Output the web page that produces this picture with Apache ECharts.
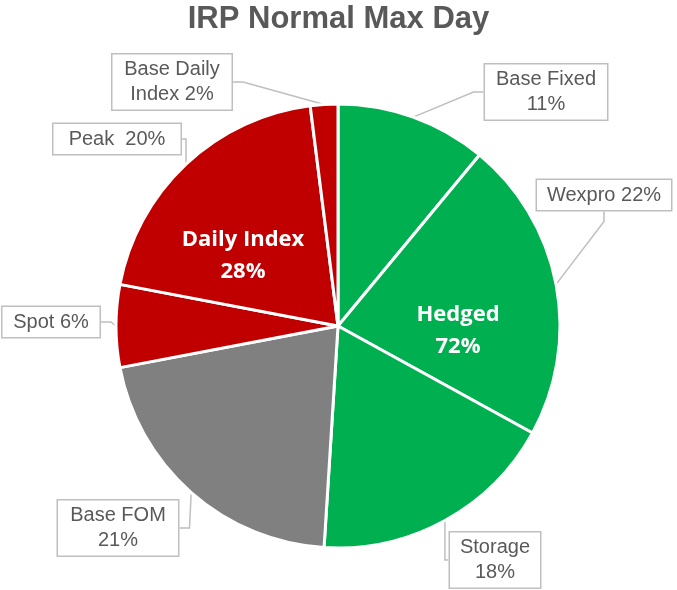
<!DOCTYPE html>
<html><head><meta charset="utf-8">
<script src="https://cdn.jsdelivr.net/npm/echarts@6/dist/echarts.min.js"></script>
<style>html,body{margin:0;padding:0;background:#fff}#c{width:677px;height:590px}</style>
</head><body><div id="c"></div>
<script>
const categories = ['Base Fixed','Wexpro','Storage','Base FOM','Spot','Peak','Base Daily Index'];
const values = [11,22,18,21,6,20,2];
const labelTexts = ['Base Fixed\n11%','Wexpro 22%','Storage\n18%','Base FOM\n21%','Spot 6%','Peak  20%','Base Daily\nIndex 2%'];
const groups = ['Hedged','Hedged','Hedged','Hedged','Daily Index','Daily Index','Daily Index'];
const colors = ['#00B050','#00B050','#00B050','#808080','#C00000','#C00000','#C00000'];

const labelPos = [[546,92],[604,195],[495,560],[118,528],[51,322],[117,139],[172,82]];
const labelWidths = [102,114,70,100,77,107,99];

const groupTotal = g => values.reduce((s,v,i)=> groups[i]===g ? s+v : s, 0);

const chart = echarts.init(document.getElementById('c'), null, {renderer:'canvas'});
chart.setOption({
  animation:false,
  title:{text:'IRP Normal Max Day', left:'center', top:-1,
    textStyle:{fontFamily:'Liberation Sans, Arial, sans-serif', fontSize:31, fontWeight:'bold', color:'#595959'}},
  graphic:[
    {type:'text', x:458, y:331, z:100, zlevel:1, style:{text:'Hedged\n' + groupTotal('Hedged') + '%', fill:'#fff',
      font:'bold 22px "Open Sans", sans-serif', align:'center', verticalAlign:'middle', lineHeight:32}},
    {type:'text', x:243, y:256, z:100, zlevel:1, style:{text:'Daily Index\n' + groupTotal('Daily Index') + '%', fill:'#fff',
      font:'bold 22px "Open Sans", sans-serif', align:'center', verticalAlign:'middle', lineHeight:32}}
  ],
  series:[{
    type:'pie',
    center:[338,326],
    radius:[0,222],
    startAngle:90,
    clockwise:true,
    itemStyle:{borderColor:'#fff', borderWidth:3},
    data: categories.map((c,i)=>({name:c, value:values[i], itemStyle:{color:colors[i]},
      label:{formatter:labelTexts[i], width:labelWidths[i]}})),
    label:{show:true, position:'outside', overflow:'none', bleedMargin:0,
      fontFamily:'Liberation Sans, Arial, sans-serif', fontSize:20, color:'#595959', lineHeight:25,
      backgroundColor:'#fff', borderColor:'#bfbfbf', borderWidth:1.5, padding:[3,10,2,10], align:'center'},
    labelLine:{show:true, length:10, length2:10, lineStyle:{color:'#bfbfbf', width:1.5}},
    labelLayout: function(params){
      const p = labelPos[params.dataIndex];
      return {x:p[0], y:p[1], align:'center', verticalAlign:'middle'};
    },
    z:2
  }]
});
</script></body></html>
